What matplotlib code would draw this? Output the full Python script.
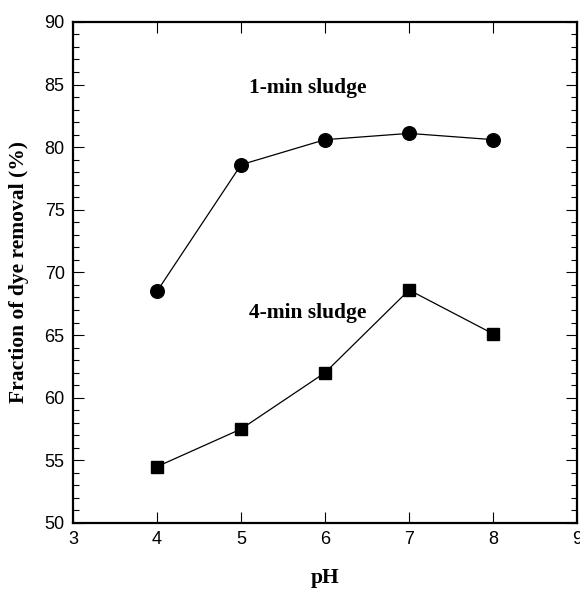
import matplotlib
matplotlib.use("Agg")
import matplotlib.pyplot as plt
from matplotlib.ticker import MultipleLocator

ph = [4, 5, 6, 7, 8]
sludge_1min = [68.5, 78.6, 80.6, 81.1, 80.6]
sludge_4min = [54.5, 57.5, 62.0, 68.6, 65.1]

fig = plt.figure(figsize=(5.8, 5.92), dpi=100)
ax = fig.add_axes([0.126, 0.1166, 0.869, 0.8464])

ax.plot(ph, sludge_1min, color="black", lw=0.9, marker="o", ms=9.8, mfc="black", mec="black")
ax.plot(ph, sludge_4min, color="black", lw=0.9, marker="s", ms=8.5, mfc="black", mec="black")

ax.set_xlim(3, 9)
ax.set_ylim(50, 90)
ax.xaxis.set_major_locator(MultipleLocator(1))
ax.yaxis.set_major_locator(MultipleLocator(5))
ax.yaxis.set_minor_locator(MultipleLocator(1))

for s in ax.spines.values():
    s.set_linewidth(1.6)

ax.tick_params(which="major", direction="in", length=8, width=0.8, top=True, right=True,
               labelsize=13, pad=6)
ax.tick_params(which="minor", direction="in", length=4.5, width=0.8, right=True)
for lab in ax.get_xticklabels() + ax.get_yticklabels():
    lab.set_family("Liberation Sans")

ax.set_xlabel("pH", family="Liberation Serif", fontweight="bold", fontsize=15.5, labelpad=14)
ax.set_ylabel("Fraction of dye removal (%)", family="Liberation Serif", fontweight="bold",
              fontsize=15.5, labelpad=11)

ax.text(5.79, 84.7, "1-min sludge", family="Liberation Serif", fontweight="bold",
        fontsize=15.5, ha="center", va="center")
ax.text(5.79, 66.8, "4-min sludge", family="Liberation Serif", fontweight="bold",
        fontsize=15.5, ha="center", va="center")

fig.savefig("out.png", dpi=100)
